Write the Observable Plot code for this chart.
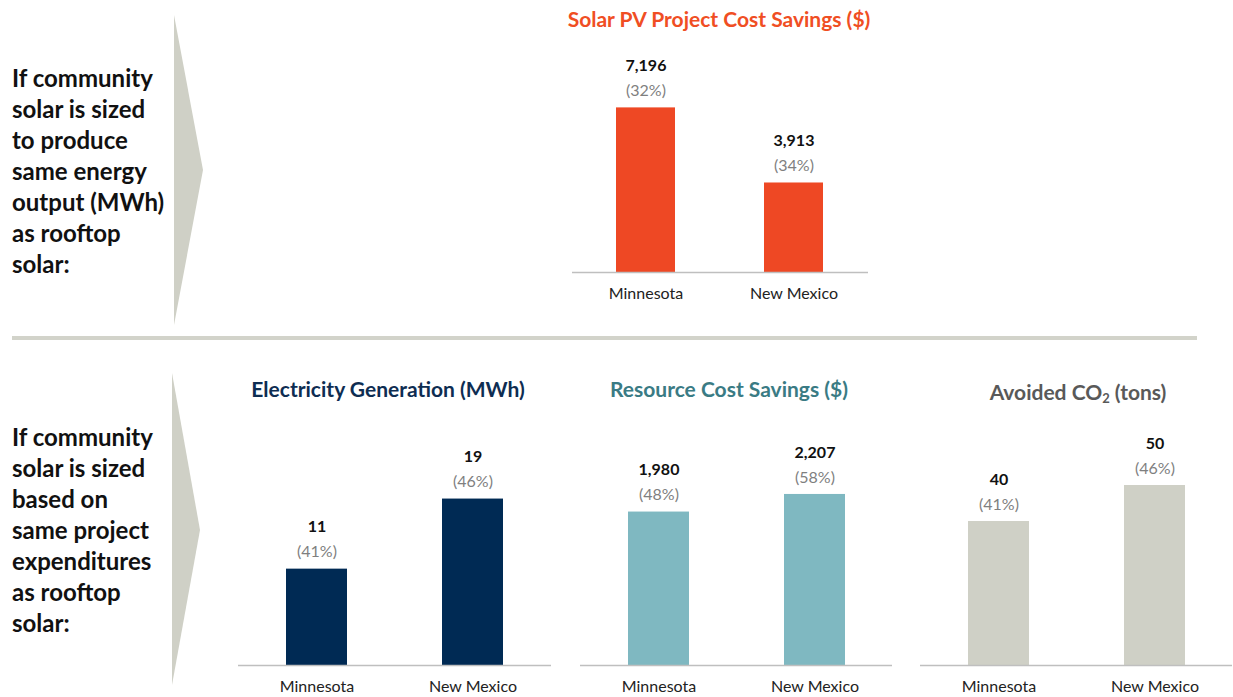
<!DOCTYPE html>
<html><head><meta charset="utf-8">
<script src="https://cdn.jsdelivr.net/npm/d3@7"></script>
<script src="https://cdn.jsdelivr.net/npm/@observablehq/plot@0.6"></script>
<style>
body{margin:0;background:#fff;font-family:Lato,"Open Sans",sans-serif;}
#page{position:relative;width:1233px;height:697px;overflow:hidden;background:#fff;}
.abs{position:absolute;}
.lead{position:absolute;left:12px;font-weight:700;font-size:24px;line-height:31px;color:#111;white-space:nowrap;}
.title{position:absolute;font-weight:700;white-space:nowrap;transform:translate(-50%,-50%);font-size:21px;}
.title sub{font-size:13px;vertical-align:-3px;line-height:0;}
</style></head><body>
<div id="page">
<svg class="abs" style="left:0;top:0" width="1233" height="697">
  <polygon points="174,15 203,170 174,325" fill="#cfd0c6"/>
  <polygon points="172,373 200,530 172,685" fill="#cfd0c6"/>
  <rect x="12" y="336" width="1185" height="4" fill="#d2d3ca"/>
</svg>
<div class="lead" style="top:62px">If community<br>solar is sized<br>to produce<br>same energy<br>output (MWh)<br>as rooftop<br>solar:</div>
<div class="lead" style="top:421px">If community<br>solar is sized<br>based on<br>same project<br>expenditures<br>as rooftop<br>solar:</div>
<div class="title" style="left:719px;top:18px;color:#f04e23">Solar PV Project Cost Savings ($)</div>
<div class="title" style="left:388px;top:388px;color:#0e2d52">Electricity Generation (MWh)</div>
<div class="title" style="left:729px;top:388px;color:#3a7b84">Resource Cost Savings ($)</div>
<div class="title" style="left:1078px;top:391px;color:#595959">Avoided CO<sub>2</sub> (tons)</div>
<div id="c1" class="abs" style="left:572px;top:40px"></div>
<div id="c2" class="abs" style="left:238px;top:410px"></div>
<div id="c3" class="abs" style="left:580px;top:410px"></div>
<div id="c4" class="abs" style="left:920px;top:410px"></div>
</div>
<script>
const states = ["Minnesota", "New Mexico"];
const pvSavings = [7196, 3913];
const pvPct = [32, 34];
const generation = [11, 19];
const generationPct = [41, 46];
const resourceSavings = [1980, 2207];
const resourcePct = [48, 58];
const avoidedCO2 = [40, 50];
const avoidedPct = [41, 46];

function chart({values, pcts, color, domain, width, height, marginTop, marginBottom, pi, po}) {
  const data = states.map((s, i) => ({state: s, value: values[i], pct: pcts[i]}));
  return Plot.plot({
    width, height, marginTop, marginBottom, marginLeft: 0, marginRight: 0,
    style: {fontFamily: "Lato, 'Open Sans', sans-serif", background: "transparent"},
    x: {domain: states, paddingInner: pi, paddingOuter: po},
    y: {domain, axis: null},
    marks: [
      Plot.barY(data, {x: "state", y: "value", fill: color}),
      Plot.ruleY([0], {stroke: "#bfbfbf", strokeWidth: 1.5}),
      Plot.text(data, {x: "state", y: "value", text: d => d3.format(",")(d.value), dy: -42, fontWeight: 700, fontSize: 16, fill: "#111"}),
      Plot.text(data, {x: "state", y: "value", text: d => `(${d.pct}%)`, dy: -17, fontSize: 16, fill: "#7f7f7f"}),
      Plot.axisX({tickSize: 0, tickPadding: 15, fontSize: 16, fill: "#222", label: null})
    ]
  });
}

document.getElementById("c1").append(chart({values: pvSavings, pcts: pvPct, color: "#ee4824", domain: [0, 8000], width: 296, height: 270, marginTop: 49, marginBottom: 38, pi: 0.6, po: 0.3}));
document.getElementById("c2").append(chart({values: generation, pcts: generationPct, color: "#002a54", domain: [0, 25], width: 313, height: 287, marginTop: 36, marginBottom: 32, pi: 0.61, po: 0.305}));
document.getElementById("c3").append(chart({values: resourceSavings, pcts: resourcePct, color: "#7fb8c1", domain: [0, 2800], width: 312, height: 287, marginTop: 38, marginBottom: 32, pi: 0.61, po: 0.305}));
document.getElementById("c4").append(chart({values: avoidedCO2, pcts: avoidedPct, color: "#cfd0c6", domain: [0, 60], width: 312, height: 287, marginTop: 39, marginBottom: 32, pi: 0.61, po: 0.305}));
</script>
</body></html>
